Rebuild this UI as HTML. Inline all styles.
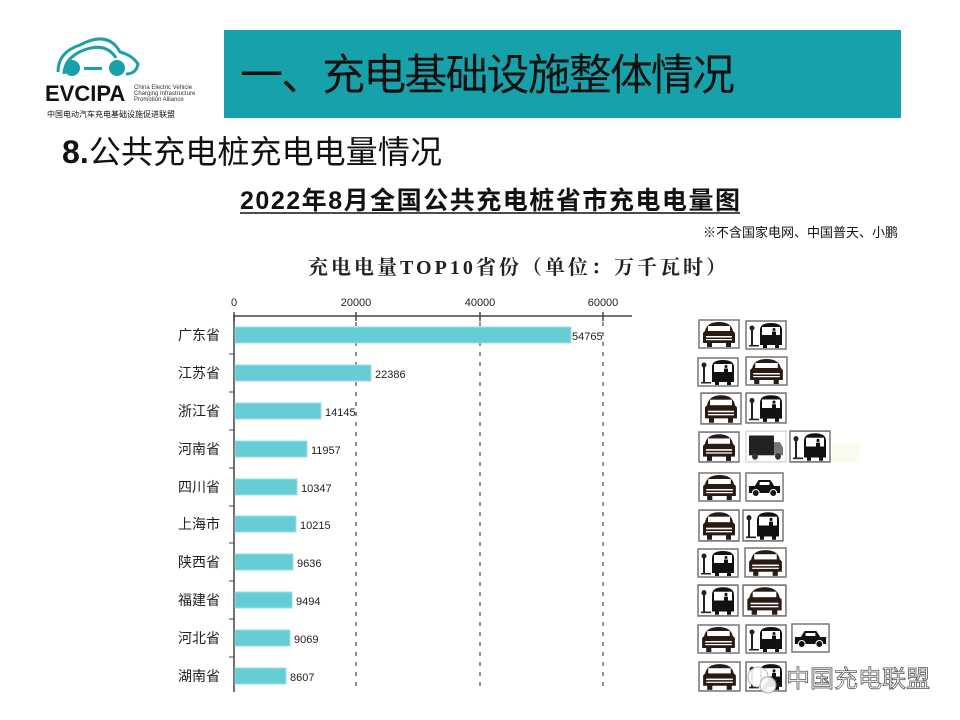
<!DOCTYPE html><html><head><meta charset="utf-8"><style>
body{margin:0;width:960px;height:720px;background:#fff;position:relative;overflow:hidden;font-family:"Liberation Sans","Noto Sans CJK SC",sans-serif}
.a{position:absolute}
</style></head><body>
<svg class="a" style="left:0;top:0" width="960" height="720">
<defs>
<symbol id="car" viewBox="0 0 42 30" preserveAspectRatio="none"><rect x="1" y="1" width="40" height="28" fill="#fff" stroke="#777" stroke-width="1.5"/><path d="M7 12 Q9 3 21 3 Q33 3 35 12 L37 14 V24 H33 V28 H28 V24 H14 V28 H9 V24 H5 V14Z" fill="#2a1a14"/><rect x="10" y="7" width="22" height="5" fill="#fff"/><rect x="8" y="17" width="26" height="1.5" fill="#fff"/><rect x="8" y="20" width="26" height="1.2" fill="#fff"/></symbol>
<symbol id="bus" viewBox="0 0 42 30" preserveAspectRatio="none"><rect x="1" y="1" width="40" height="28" fill="#fff" stroke="#777" stroke-width="1.5"/><rect x="6" y="8" width="2" height="18" fill="#222"/><circle cx="7" cy="8" r="2.5" fill="#222"/><rect x="4" y="25" width="10" height="1.5" fill="#222"/><path d="M15 10 Q15 3 26 3 Q37 3 37 10 V25 H34 V28 H30 V25 H22 V28 H18 V25 H15Z" fill="#111"/><rect x="17" y="7" width="18" height="8" fill="#fff"/><circle cx="29" cy="9.5" r="1.5" fill="#111"/><rect x="27" y="11.5" width="4" height="3.5" fill="#111"/></symbol>
<symbol id="truck" viewBox="0 0 42 30" preserveAspectRatio="none"><rect x="1" y="1" width="40" height="28" fill="#fff" stroke="#ccc" stroke-width="1"/><rect x="4" y="5" width="25" height="18" fill="#222"/><path d="M29 11 H35 L38 16 V23 H29Z" fill="#777"/><circle cx="10" cy="24" r="3" fill="#333"/><circle cx="33" cy="24" r="3" fill="#333"/></symbol>
<symbol id="taxi" viewBox="0 0 40 30" preserveAspectRatio="none"><rect x="1" y="1" width="38" height="28" fill="#fff" stroke="#777" stroke-width="1.5"/><path d="M4 14 L10 14 L14 8 H26 L30 14 H36 V21 H4Z" fill="#111"/><rect x="15" y="10" width="10" height="3" fill="#fff"/><circle cx="11" cy="21" r="3.5" fill="#111" stroke="#fff"/><circle cx="29" cy="21" r="3.5" fill="#111" stroke="#fff"/></symbol>
</defs>
<rect x="224" y="30" width="677" height="88" fill="#17a1aa"/>
<text x="240" y="90" font-size="43" fill="#111" textLength="495" font-family="Liberation Sans,Noto Sans CJK SC,sans-serif">一、充电基础设施整体情况</text>
<g fill="none" stroke="#1aa0a8" stroke-width="3">
<path d="M58 72 Q58 52 80 45 Q108 30 120 52 Q132 55 138 64 Q136 74 126 74"/>
<path d="M64 74 Q64 58 84 50 Q106 42 116 58"/>
</g>
<circle cx="72" cy="68" r="8" fill="#1aa0a8"/><circle cx="117" cy="68" r="8" fill="#1aa0a8"/>
<rect x="84" y="67" width="18" height="3" fill="#1aa0a8"/>
<text x="45" y="101" font-size="22" font-weight="bold" fill="#111">EVCIPA</text>
<text x="134" y="89" font-size="6" fill="#333">China Electric Vehicle</text>
<text x="134" y="95" font-size="6" fill="#333">Charging Infrastructure</text>
<text x="134" y="101" font-size="6" fill="#333">Promotion Alliance</text>
<text x="47" y="117" font-size="8" fill="#111">中国电动汽车充电基础设施促进联盟</text>
<text x="62" y="163" font-size="32" fill="#111" textLength="380"><tspan font-weight="bold">8.</tspan>公共充电桩充电电量情况</text>
<text x="240" y="209" font-size="25" font-weight="bold" fill="#111" textLength="500">2022年8月全国公共充电桩省市充电电量图</text>
<line x1="240" y1="213" x2="740" y2="213" stroke="#111" stroke-width="1.5"/>
<text x="898" y="237" font-size="13" fill="#111" text-anchor="end">※不含国家电网、中国普天、小鹏</text>
<text x="308" y="274" font-size="20" font-weight="bold" fill="#222" textLength="418" font-family="Liberation Serif,Noto Serif CJK SC,serif">充电电量TOP10省份（单位：万千瓦时）</text>
<g font-size="11" fill="#222" text-anchor="middle">
<text x="234" y="306">0</text><text x="356" y="306">20000</text><text x="480" y="306">40000</text><text x="603" y="306">60000</text>
</g>
<line x1="233" y1="316" x2="632" y2="316" stroke="#444" stroke-width="1.5"/>
<line x1="234" y1="316" x2="234" y2="692" stroke="#444" stroke-width="1.5"/>
<g stroke="#444" stroke-width="1.5"><line x1="356" y1="312" x2="356" y2="321"/><line x1="480" y1="312" x2="480" y2="321"/><line x1="603" y1="312" x2="603" y2="321"/><line x1="234" y1="312" x2="234" y2="321"/></g>
<g stroke="#555" stroke-dasharray="4,6" stroke-width="1.3"><line x1="356" y1="322" x2="356" y2="692"/><line x1="480" y1="322" x2="480" y2="692"/><line x1="603" y1="322" x2="603" y2="692"/></g>
<g stroke="#444"><line x1="229" y1="354" x2="234" y2="354"/><line x1="229" y1="392" x2="234" y2="392"/><line x1="229" y1="430" x2="234" y2="430"/><line x1="229" y1="468" x2="234" y2="468"/><line x1="229" y1="506" x2="234" y2="506"/><line x1="229" y1="543" x2="234" y2="543"/><line x1="229" y1="581" x2="234" y2="581"/><line x1="229" y1="619" x2="234" y2="619"/><line x1="229" y1="657" x2="234" y2="657"/></g>
<g fill="#66ccd6" stroke="#9adfe5">
<rect x="235" y="327" width="336" height="16"/>
<rect x="235" y="365" width="136" height="16"/>
<rect x="235" y="403" width="86" height="16"/>
<rect x="235" y="441" width="72" height="16"/>
<rect x="235" y="479" width="62" height="16"/>
<rect x="235" y="516" width="61" height="16"/>
<rect x="235" y="554" width="58" height="16"/>
<rect x="235" y="592" width="57" height="16"/>
<rect x="235" y="630" width="55" height="16"/>
<rect x="235" y="668" width="51" height="16"/>
</g>
<g font-size="11" fill="#222">
<text x="572" y="340">54765</text><text x="375" y="378">22386</text><text x="325" y="416">14145</text><text x="311" y="454">11957</text><text x="301" y="492">10347</text><text x="300" y="529">10215</text><text x="297" y="567">9636</text><text x="296" y="605">9494</text><text x="294" y="643">9069</text><text x="290" y="681">8607</text>
</g>
<g font-size="14" fill="#222" text-anchor="end">
<text x="220" y="340">广东省</text><text x="220" y="378">江苏省</text><text x="220" y="416">浙江省</text><text x="220" y="454">河南省</text><text x="220" y="492">四川省</text><text x="220" y="529">上海市</text><text x="220" y="567">陕西省</text><text x="220" y="605">福建省</text><text x="220" y="643">河北省</text><text x="220" y="681">湖南省</text>
</g>
<rect x="832" y="444" width="28" height="19" fill="#fbfbee"/>
<use href="#car" x="698" y="319" width="42" height="30"/><use href="#bus" x="745" y="320" width="42" height="30"/>
<use href="#bus" x="697" y="357" width="42" height="30"/><use href="#car" x="745" y="356" width="43" height="30"/>
<use href="#car" x="700" y="392" width="42" height="33"/><use href="#bus" x="745" y="392" width="42" height="32"/>
<use href="#car" x="698" y="431" width="42" height="32"/><use href="#truck" x="745" y="430" width="42" height="33"/><use href="#bus" x="789" y="430" width="42" height="33"/>
<use href="#car" x="698" y="472" width="43" height="30"/><use href="#taxi" x="745" y="472" width="39" height="30"/>
<use href="#car" x="698" y="509" width="42" height="33"/><use href="#bus" x="742" y="509" width="42" height="33"/>
<use href="#bus" x="697" y="548" width="42" height="30"/><use href="#car" x="744" y="547" width="43" height="31"/>
<use href="#bus" x="697" y="584" width="42" height="33"/><use href="#car" x="742" y="584" width="45" height="33"/>
<use href="#car" x="697" y="624" width="43" height="30"/><use href="#bus" x="745" y="624" width="42" height="30"/><use href="#taxi" x="791" y="623" width="39" height="30"/>
<use href="#car" x="698" y="661" width="43" height="31"/><use href="#bus" x="745" y="661" width="42" height="31"/>
<circle cx="758" cy="677" r="10" fill="#fff" stroke="#aaa" opacity="0.9"/><circle cx="768" cy="685" r="8" fill="#fff" stroke="#aaa" opacity="0.9"/>
<text x="786" y="687" font-size="24" fill="#fff" stroke="#555" stroke-width="0.8">中国充电联盟</text>
</svg>
</body></html>
